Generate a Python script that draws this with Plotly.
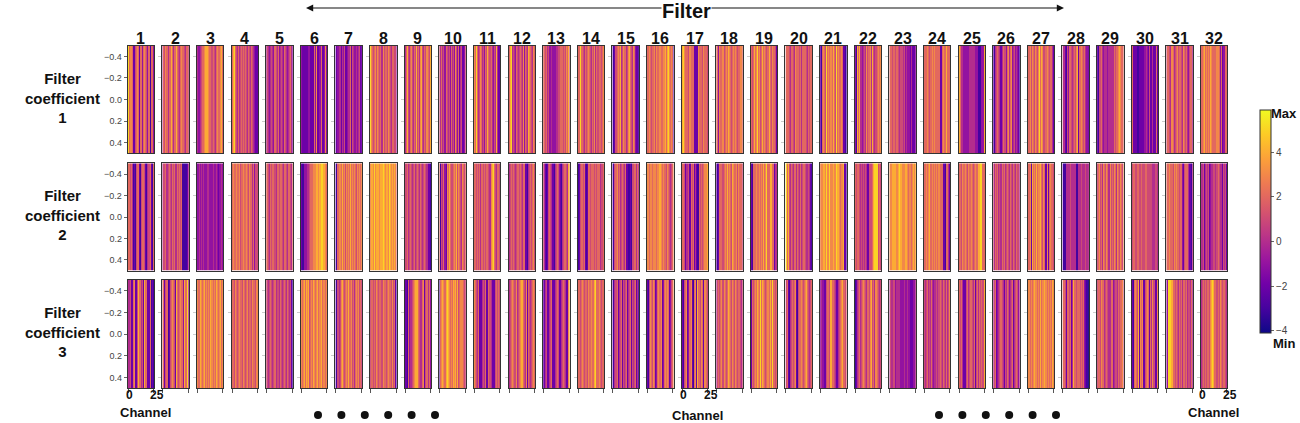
import plotly.graph_objects as go

W, H = 1300, 423

# ---- data: one string per filter panel, 26 channels each; digit d -> value d-4 ----
ROW1 = [
    "96776225676266367653616639", "46576466864668654676654665", "43345667888766565467667865",
    "68965464565656546546543221", "45434543654634543654345643", "32222223322226372236223732",
    "22344243522344625433434522", "97656757656475665765466553", "46854675465856478546576586",
    "54645365453645375362452235", "76964576453658656435484221", "68945436545654736548765476",
    "66564533433344556665657685", "66966546567654657465665676", "21256768457664578654763221",
    "66765667576676677868976761", "89766657766622227666576656", "66376675676876567676566776",
    "65686796756867656865766521", "66654665476665646666546566", "21676596767686596766762211",
    "31868443454756674854567676", "66656566545554534333242223", "66676566767666622676686665",
    "86443333334444443331113389", "21456542465536746734534321", "66757657657968755676566421",
    "54215366545657826676564332", "21556434443444446566787666", "62222112222233432522422621",
    "56654764567566547656435664", "66786767687666677636233666",
]
ROW2 = [
    "66564121566215665214562165", "45564565465644656561111124", "33434343334433343343233433",
    "67667667566766765766463554", "66546566546656654665466546", "21133344566677788789988767",
    "21677686757676867676576767", "78879788878898788798787876", "55645654564565465456542211",
    "61546327686556768576547656", "66565646656566547896546656", "45656545665654662214565675",
    "54212565421456532145665487", "12566562126656665656645562", "21567564565462211215566464",
    "77677677767787676657654567", "66524452265624211656567789", "21266656768676587667576665",
    "21666766767686796688662445", "96854654664654645665445421", "77788797797787798876778221",
    "65665454545422555689995656", "77788877898877788767767878", "66767866767676766622166421",
    "66576676576676567668899666", "54656454656456546546546554", "66728676867786576272676656",
    "21144445444441144454445444", "56756476576475657647657657", "56655665565556655555445544",
    "66676657676656632566642214", "44524545234455456544254524",
]
ROW3 = [
    "44522672258664528662261212", "66256125676528656766386694", "76687678676768767687678676",
    "66576567665765675665766576", "55456545645546545654654521", "76786878567687678678677677",
    "21545786567686675646767565", "56656576566576656766575621", "22163445678886544672564632",
    "16787689876768786856777655", "76546222454622654222565652", "45676557456788654726545676",
    "22452245622456522456542278", "66567656657667668966765665", "21456245625456245625456241",
    "21576576236767236767623567", "21567236672167286657627657", "45656757656876576576566545",
    "26567687696876567686966565", "56214565672156676567865456", "34332256658665422456786656",
    "12456456765466578564765456", "45445344443333433433222334", "54564546434454565465464576",
    "65642225645665462564656589", "45623456542546534562456534", "77676787767686778767676877",
    "66526656248665666565632110", "56657664565446634554656675", "21676582767225676264752276",
    "33999866565465646656455464", "45656566578986656576566545",
]
ROWS = [ROW1, ROW2, ROW3]
FILTERS = [str(i) for i in range(1, 33)]
ROW_LABELS = ["Filter<br>coefficient<br>1", "Filter<br>coefficient<br>2", "Filter<br>coefficient<br>3"]
Y_TICKS = [-0.4, -0.2, 0.0, 0.2, 0.4]
X_TICKS = [0, 25]
CBAR_TICKS = [-4, -2, 0, 2, 4]
ZMIN, ZMAX = -4.1, 5.9
LABELLED_COLS = [0, 16, 31]
N_CH = 26

FONT = "Liberation Sans, Arial, sans-serif"

def fx(x):
    return x / W

def fy(y):
    return 1 - y / H

ROW_Y = [(45.7, 153.3), (163.3, 270.7), (280.0, 388.3)]
COL_X0, COL_STEP, COL_W = 127.7, 34.62, 26.5

fig = go.Figure()
layout = {}
annotations = []
shapes = []

for r, row in enumerate(ROWS):
    y_top, y_bot = ROW_Y[r]
    for c, s in enumerate(row):
        n = r * 32 + c + 1
        xa = "x" if n == 1 else f"x{n}"
        ya = "y" if n == 1 else f"y{n}"
        vals = [int(ch) - 4 for ch in s]
        fig.add_trace(go.Heatmap(
            z=[vals], x0=0, dx=1, y0=0, dy=1,
            coloraxis="coloraxis", xaxis=xa, yaxis=ya,
            hoverinfo="skip",
        ))
        x0 = COL_X0 + COL_STEP * c
        xkey = "xaxis" if n == 1 else f"xaxis{n}"
        ykey = "yaxis" if n == 1 else f"yaxis{n}"
        show_x = (r == 2)
        layout[xkey] = dict(
            domain=[fx(x0), fx(x0 + COL_W)], anchor=ya,
            range=[-0.5, N_CH - 0.5], showgrid=False, zeroline=False,
            showline=True, mirror=True, linecolor="#333", linewidth=1,
            tickvals=X_TICKS if show_x else [],
            showticklabels=False,
            ticks="outside" if show_x else "", ticklen=4, tickcolor="#555",
        )
        layout[ykey] = dict(
            domain=[fy(y_bot), fy(y_top)], anchor=xa,
            range=[0.5, -0.5], showgrid=False, zeroline=False,
            showline=True, mirror=True, linecolor="#333", linewidth=1,
            tickvals=Y_TICKS, tickformat=".1f",
            showticklabels=(c == 0),
            ticks="outside", ticklen=3,
            tickcolor="#666" if c == 0 else "#cccccc",
            tickfont=dict(family=FONT, size=9, color="#444"),
        )
        # bold channel tick labels under selected panels of the last row
        if show_x and c in LABELLED_COLS:
            for t, dx in zip(X_TICKS, (1.0, 3.0)):
                xt = x0 + (t + 0.5) / N_CH * COL_W + dx
                annotations.append(dict(
                    x=fx(xt), y=fy(395), xref="paper", yref="paper",
                    text=f"<b>{t}</b>", showarrow=False, xanchor="center", yanchor="middle",
                    font=dict(family=FONT, size=12, color="#111"),
                ))

# column numbers
for c, lab in enumerate(FILTERS):
    x0 = COL_X0 + COL_STEP * c
    annotations.append(dict(
        x=fx(x0 + COL_W / 2), y=fy(38), xref="paper", yref="paper",
        text=f"<b>{lab}</b>", showarrow=False, xanchor="center", yanchor="middle",
        font=dict(family=FONT, size=16, color="#111"),
    ))

# row labels
for r, lab in enumerate(ROW_LABELS):
    yc = (ROW_Y[r][0] + ROW_Y[r][1]) / 2 - 2
    annotations.append(dict(
        x=fx(63), y=fy(yc), xref="paper", yref="paper",
        text=f"<b>{lab}</b>", showarrow=False, xanchor="center", yanchor="middle",
        align="center", font=dict(family=FONT, size=15, color="#111"),
    ))

# Channel labels
for xc, yc in [(145, 412), (697, 415), (1213, 412)]:
    annotations.append(dict(
        x=fx(xc), y=fy(yc), xref="paper", yref="paper",
        text="<b>Channel</b>", showarrow=False, xanchor="center", yanchor="middle",
        font=dict(family=FONT, size=13, color="#111"),
    ))

# Filter arrow
annotations.append(dict(
    x=fx(306), y=fy(8), xref="paper", yref="paper", text="",
    showarrow=True, ax=370, ay=0, arrowhead=2, arrowsize=1.2, arrowwidth=1.2, arrowcolor="#111",
))
annotations.append(dict(
    x=fx(1064), y=fy(8), xref="paper", yref="paper", text="",
    showarrow=True, ax=-370, ay=0, arrowhead=2, arrowsize=1.2, arrowwidth=1.2, arrowcolor="#111",
))
annotations.append(dict(
    x=fx(686), y=fy(11), xref="paper", yref="paper",
    text="<b>Filter</b>", showarrow=False, xanchor="center", yanchor="middle",
    bgcolor="white", borderpad=0,
    font=dict(family=FONT, size=20, color="#111"),
))

# Max / Min
annotations.append(dict(x=fx(1284), y=fy(114), xref="paper", yref="paper", text="<b>Max</b>",
                        showarrow=False, xanchor="center", yanchor="middle",
                        font=dict(family=FONT, size=13, color="#111")))
annotations.append(dict(x=fx(1284), y=fy(343), xref="paper", yref="paper", text="<b>Min</b>",
                        showarrow=False, xanchor="center", yanchor="middle",
                        font=dict(family=FONT, size=13, color="#111")))

# ellipsis dots
for start in (318, 939):
    for k in range(6):
        xc = start + 23.4 * k
        shapes.append(dict(type="circle", xref="paper", yref="paper",
                           x0=fx(xc - 4), x1=fx(xc + 4), y0=fy(419), y1=fy(411),
                           fillcolor="#111", line=dict(width=0)))

layout.update(dict(
    width=W, height=H, margin=dict(l=0, r=0, t=0, b=0),
    paper_bgcolor="white", plot_bgcolor="white",
    showlegend=False,
    annotations=annotations, shapes=shapes,
    coloraxis=dict(
        colorscale="Plasma", cmin=ZMIN, cmax=ZMAX,
        colorbar=dict(
            x=fx(1260), xanchor="left", xpad=0, ypad=0,
            y=fy(221.5), yanchor="middle", len=223, lenmode="pixels",
            thickness=11, outlinecolor="#333", outlinewidth=1,
            tickvals=CBAR_TICKS, ticks="outside", ticklen=3, tickcolor="#666",
            tickfont=dict(family=FONT, size=10, color="#444"),
        ),
    ),
))
fig.update_layout(**layout)
fig.write_html(
    "out.html",
    config={"displayModeBar": False},
    post_script="document.body.style.margin='0';document.body.style.overflow='hidden';",
)
